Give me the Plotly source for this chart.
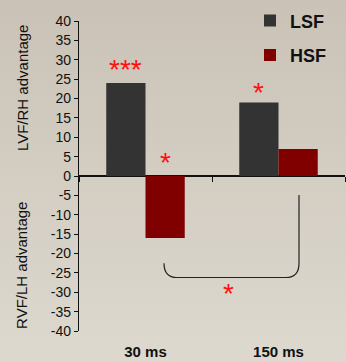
import base64
import plotly.graph_objects as go

# ---- data ----
categories = ["30 ms", "150 ms"]
lsf_values = [24, 19]
hsf_values = [-16, 7]
series_names = ["LSF", "HSF"]
y_ticks = list(range(-40, 45, 5))
y_tick_labels = [str(v) for v in y_ticks]
star_texts = ["***", "*", "*", "*"]
star_y = [27.6, 3.4, 21.5, -30.3]

# ---- layout constants ----
W_FIG, H_FIG = 346, 362
ML, MR, MT, MB = 79, 1, 21, 31
PW, PH = W_FIG - ML - MR, H_FIG - MT - MB

LSF_COLOR = "#333333"
HSF_COLOR = "#800000"
STAR_COLOR = "#ff1010"
INK = "#111111"

fig = go.Figure()
fig.add_trace(go.Bar(x=categories, y=lsf_values, name=series_names[0],
                     marker=dict(color=LSF_COLOR, line=dict(width=0)),
                     legendgroup="a"))
fig.add_trace(go.Bar(x=categories, y=hsf_values, name=series_names[1],
                     marker=dict(color=HSF_COLOR, line=dict(width=0)),
                     legendgroup="b"))
# helper trace carrying the zero-line category ticks
fig.add_trace(go.Scatter(x=categories, y=[0, 0], xaxis="x2", mode="markers",
                         marker=dict(opacity=0), showlegend=False,
                         hoverinfo="skip"))

# background gradient
svg = ('<svg xmlns="http://www.w3.org/2000/svg" width="346" height="362" '
       'preserveAspectRatio="none"><defs><linearGradient id="g" x1="0" y1="0" '
       'x2="0" y2="1"><stop offset="0" stop-color="#cac2b6"/>'
       '<stop offset="1" stop-color="#ddd9cf"/></linearGradient></defs>'
       '<rect width="100%" height="100%" fill="url(#g)"/></svg>')
src = "data:image/svg+xml;base64," + base64.b64encode(svg.encode()).decode()

# star annotations: LSF30, HSF30, LSF150, bracket
bar_off = 0.25 * (1 - 0.41)  # offset of a grouped bar center in category units
star_x = [0 - bar_off, 0 + bar_off, 1 - bar_off, None]
annotations = []
for i, (t, y) in enumerate(zip(star_texts, star_y)):
    if star_x[i] is None:
        annotations.append(dict(x=(228 - ML) / PW, xref="paper", y=y, yref="y",
                                text=t, showarrow=False,
                                font=dict(family="Arial", size=28, color=STAR_COLOR)))
    else:
        annotations.append(dict(x=star_x[i], xref="x2", y=y, yref="y",
                                text=t, showarrow=False,
                                font=dict(family="Arial", size=28, color=STAR_COLOR)))

# y-axis titles
annotations.append(dict(x=(22 - ML) / PW, xref="paper", xanchor="center",
                        y=22.7, yref="y", yanchor="middle",
                        text="LVF/RH advantage", textangle=-90, showarrow=False,
                        font=dict(family="Arial", size=15, color=INK)))
annotations.append(dict(x=(22 - ML) / PW, xref="paper", xanchor="center",
                        y=-23.2, yref="y", yanchor="middle",
                        text="RVF/LH advantage", textangle=-90, showarrow=False,
                        font=dict(family="Arial", size=15, color=INK)))

# bracket connecting the HSF bars
xl, xr = (164 - ML) / PW, (299 - ML) / PW
rx = 13 / PW
yb, yc, yt = -26.2, -22.5, -4.9
path = (f"M {xl},{yc} Q {xl},{yb} {xl + rx},{yb} L {xr - rx},{yb} "
        f"Q {xr},{yb} {xr},{yc} L {xr},{yt}")

fig.update_layout(
    width=W_FIG, height=H_FIG,
    margin=dict(l=ML, r=MR, t=MT, b=MB, pad=0, autoexpand=False),
    paper_bgcolor="#d4cfc4",
    plot_bgcolor="rgba(0,0,0,0)",
    barmode="group", bargap=0.41, bargroupgap=0,
    font=dict(family="Arial", color=INK),
    xaxis=dict(type="category", range=[-0.5, 1.5], showline=False,
               showgrid=False, zeroline=False, ticks="",
               tickfont=dict(family="Arial", size=15, color=INK, weight="bold"),
               ticklabelstandoff=10, fixedrange=True),
    xaxis2=dict(type="category", overlaying="x", anchor="free", position=0.5,
                range=[-0.5, 1.5], showline=False, showgrid=False,
                zeroline=False, ticks="outside", tickson="boundaries",
                ticklen=5, tickcolor=INK, tickwidth=1,
                showticklabels=False),
    yaxis=dict(range=[-40, 40], tickvals=y_ticks, ticktext=y_tick_labels,
               showgrid=False,
               showline=True, linecolor=INK, linewidth=1.2,
               ticks="outside", ticklen=4, tickcolor=INK,
               zeroline=True, zerolinecolor=INK, zerolinewidth=1.6,
               tickfont=dict(family="Arial", size=14, color=INK)),
    legend=dict(x=(250 - ML) / PW, xanchor="left", y=1.06, yanchor="top",
                bgcolor="rgba(0,0,0,0)", tracegroupgap=8,
                font=dict(family="Arial", size=18, color=INK, weight="bold")),
    annotations=annotations,
    shapes=[dict(type="path", path=path, xref="paper", yref="y",
                 line=dict(color="#222222", width=1.2))],
    images=[dict(source=src, xref="paper", yref="paper",
                 x=-ML / PW, y=1 + MT / PH, sizex=W_FIG / PW, sizey=H_FIG / PH,
                 xanchor="left", yanchor="top", sizing="stretch",
                 layer="below")],
)

fig.write_html(
    "out.html",
    config={"displayModeBar": False},
    post_script="document.body.style.margin='0';document.body.style.padding='0';",
)
